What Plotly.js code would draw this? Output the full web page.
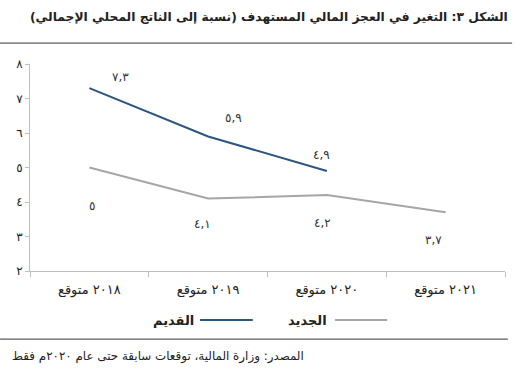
<!DOCTYPE html>
<html><head><meta charset="utf-8">
<script src="https://cdn.plot.ly/plotly-3.0.1.min.js"></script>
<style>html,body{margin:0;padding:0;background:#fff}#c{width:520px;height:369px}</style>
</head><body><div id="c"></div>
<script>
const categories = ["٢٠١٨ متوقع", "٢٠١٩ متوقع", "٢٠٢٠ متوقع", "٢٠٢١ متوقع"];
const oldValues = [7.3, 5.9, 4.9];
const newValues = [5, 4.1, 4.2, 3.7];
const oldLabels = ["٧,٣", "٥,٩", "٤,٩"];
const newLabels = ["٥", "٤,١", "٤,٢", "٣,٧"];
const yTickVals = [2, 3, 4, 5, 6, 7, 8];
const yTickText = ["٢", "٣", "٤", "٥", "٦", "٧", "٨"];
const seriesNames = ["القديم", "الجديد"];
const titleText = "الشكل ٣: التغير في العجز المالي المستهدف (نسبة إلى الناتج المحلي الإجمالي)";
const sourceText = "المصدر: وزارة المالية، توقعات سابقة حتى عام ٢٠٢٠م فقط";

const oldColor = "#2b5680", newColor = "#a6a6a6";
const font = "DejaVu Sans, Noto Sans, sans-serif";

const oldShift = [[31, 11], [25, 18], [-5, 16]];
const newShift = [[3, -38], [-6, -25], [-4, -28], [-12, -28]];

const annotations = [];
oldValues.forEach((v, i) => annotations.push({x: categories[i], y: v, text: oldLabels[i], showarrow: false,
  xshift: oldShift[i][0], yshift: oldShift[i][1], font: {size: 12, color: "#333", family: font}}));
newValues.forEach((v, i) => annotations.push({x: categories[i], y: v, text: newLabels[i], showarrow: false,
  xshift: newShift[i][0], yshift: newShift[i][1], font: {size: 12, color: "#333", family: font}}));
annotations.push({xref: "paper", yref: "paper", x: 1.0105, y: 1.227, xanchor: "right", yanchor: "middle",
  text: "<b>" + titleText + "</b>", showarrow: false, font: {size: 12.3, color: "#222", family: font}});
annotations.push({xref: "paper", yref: "paper", x: -0.042, y: -0.415, xanchor: "left", yanchor: "middle",
  text: sourceText, showarrow: false, font: {size: 11.9, color: "#222", family: font}});
// legend (RTL style: symbol on the right of text)
annotations.push({xref: "paper", yref: "paper", x: 0.349, y: -0.237, xanchor: "right", yanchor: "middle",
  text: "<b>" + seriesNames[0] + "</b>", showarrow: false, font: {size: 13, color: "#222", family: font}});
annotations.push({xref: "paper", yref: "paper", x: 0.629, y: -0.237, xanchor: "right", yanchor: "middle",
  text: "<b>" + seriesNames[1] + "</b>", showarrow: false, font: {size: 13, color: "#222", family: font}});

const shapes = [
  {type: "line", xref: "paper", yref: "paper", x0: 0.358, x1: 0.469, y0: -0.237, y1: -0.237, line: {color: oldColor, width: 2}},
  {type: "line", xref: "paper", yref: "paper", x0: 0.642, x1: 0.752, y0: -0.237, y1: -0.237, line: {color: newColor, width: 2}},
  {type: "line", xref: "paper", yref: "paper", x0: -0.063, x1: 1.015, y0: 1.101, y1: 1.101, line: {color: "#333", width: 1}},
  {type: "line", xref: "paper", yref: "paper", x0: -0.063, x1: 1.006, y0: -0.329, y1: -0.329, line: {color: "#333", width: 1}}
];

const data = [
  {x: categories.slice(0, oldValues.length), y: oldValues, name: seriesNames[0], type: "scatter", mode: "lines",
   line: {color: oldColor, width: 2}, hoverinfo: "skip"},
  {x: categories, y: newValues, name: seriesNames[1], type: "scatter", mode: "lines",
   line: {color: newColor, width: 2}, hoverinfo: "skip"}
];

const layout = {
  width: 520, height: 369,
  margin: {l: 30, r: 15, t: 64, b: 98},
  paper_bgcolor: "#fff", plot_bgcolor: "#fff",
  showlegend: false,
  font: {family: font, color: "#333"},
  xaxis: {type: "category", categoryarray: categories, range: [-0.5, 3.5], showgrid: false, zeroline: false,
    showline: true, linecolor: "#bfbfbf", linewidth: 1, ticks: "outside", tickson: "boundaries", ticklen: 5,
    tickcolor: "#bfbfbf", ticklabelstandoff: 6, tickfont: {size: 13, color: "#222", family: font}},
  yaxis: {range: [2, 8], tickvals: yTickVals, ticktext: yTickText, showgrid: false, zeroline: false,
    showline: true, linecolor: "#bfbfbf", linewidth: 1, ticks: "outside", ticklen: 4, tickcolor: "#bfbfbf",
    tickfont: {size: 12, color: "#222", family: font}},
  annotations: annotations,
  shapes: shapes
};
Plotly.newPlot("c", data, layout, {staticPlot: true, displayModeBar: false});
</script></body></html>
